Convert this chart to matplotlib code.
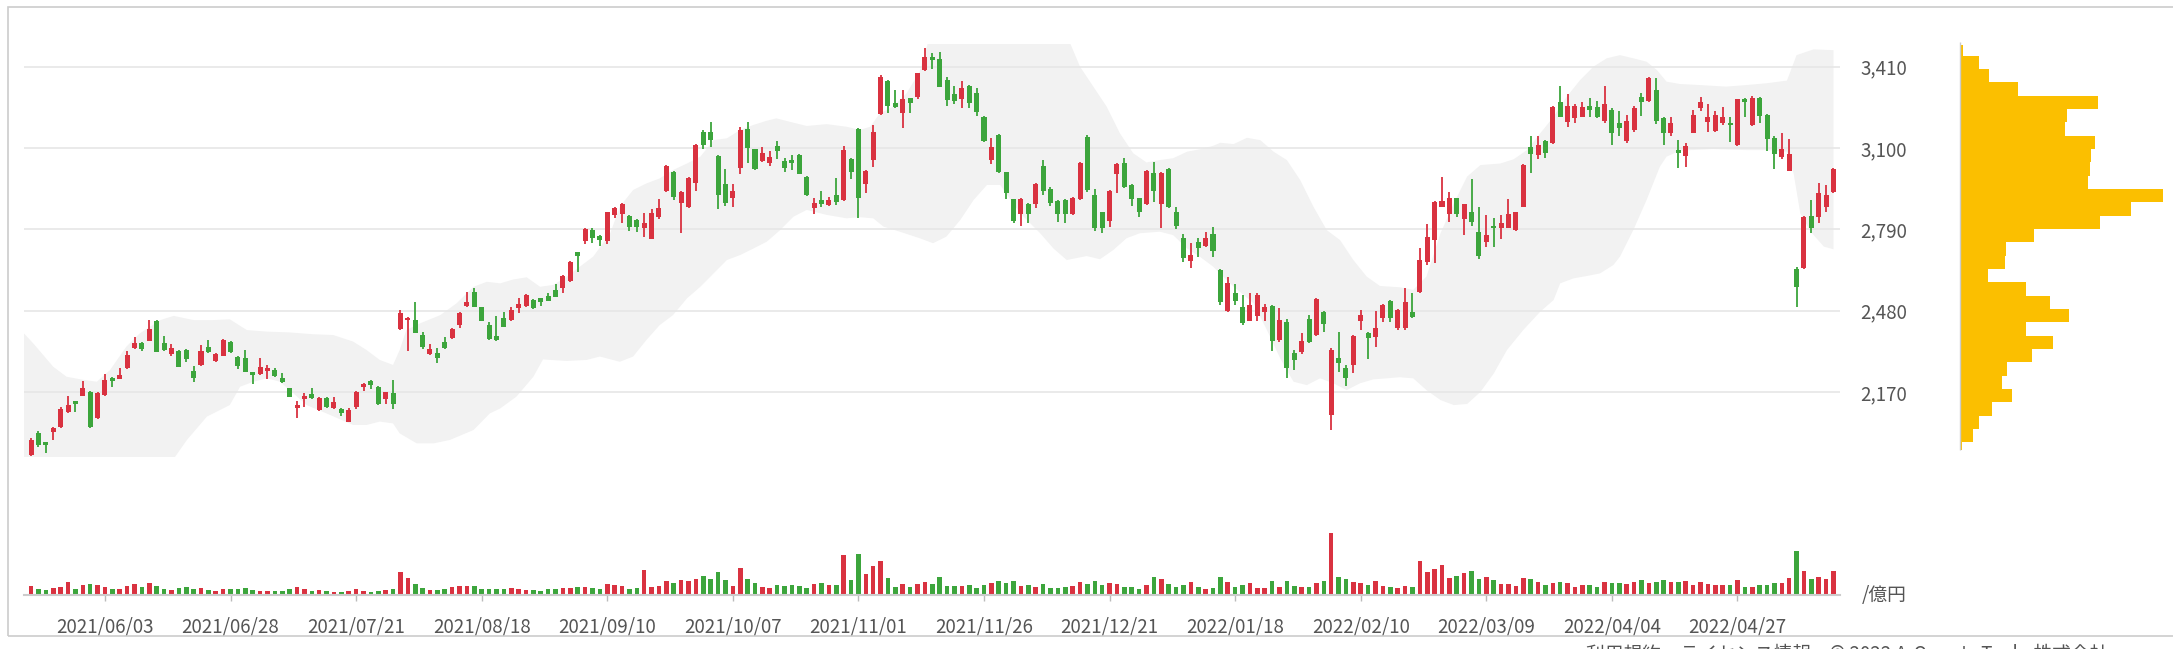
import numpy as np
import pandas as pd
import matplotlib
matplotlib.use("Agg")
import matplotlib.pyplot as plt
from matplotlib.patches import Rectangle

plt.rcParams['font.family'] = ['Noto Sans CJK JP', 'DejaVu Sans']

# ---- data ----------------------------------------------------------------
jp_holidays = ['2021-07-22', '2021-07-23', '2021-08-09', '2021-09-20', '2021-09-23',
               '2021-11-03', '2021-11-23', '2021-12-31', '2022-01-03', '2022-01-10',
               '2022-02-11', '2022-02-23', '2022-03-21', '2022-04-29', '2022-05-03',
               '2022-05-04', '2022-05-05']

# open, high, low, close (yen)
ohlc = [
    (1930, 1993, 1926, 1987), (2012, 2022, 1959, 1968), (1978, 1980, 1939, 1968), (2016, 2035, 1987, 2031),
    (2035, 2114, 2034, 2104), (2094, 2156, 2091, 2120), (2136, 2136, 2092, 2124), (2156, 2212, 2155, 2184),
    (2171, 2174, 2034, 2035), (2069, 2169, 2067, 2165), (2158, 2238, 2156, 2216), (2224, 2226, 2188, 2213),
    (2219, 2260, 2218, 2235), (2260, 2326, 2258, 2311), (2336, 2378, 2334, 2358), (2355, 2362, 2327, 2333),
    (2365, 2444, 2364, 2409), (2442, 2444, 2322, 2324), (2355, 2385, 2327, 2330), (2315, 2351, 2308, 2336),
    (2327, 2330, 2264, 2266), (2330, 2334, 2283, 2294), (2250, 2270, 2207, 2222), (2273, 2349, 2270, 2327),
    (2343, 2368, 2317, 2321), (2288, 2317, 2285, 2313), (2308, 2372, 2306, 2368), (2362, 2364, 2320, 2321),
    (2305, 2308, 2259, 2270), (2298, 2330, 2245, 2247), (2245, 2247, 2200, 2235), (2237, 2298, 2236, 2266),
    (2251, 2273, 2219, 2260), (2254, 2260, 2228, 2232), (2222, 2244, 2203, 2207), (2184, 2186, 2150, 2152),
    (2108, 2136, 2069, 2120), (2143, 2165, 2114, 2155), (2162, 2186, 2142, 2146), (2101, 2152, 2099, 2146),
    (2146, 2150, 2108, 2111), (2108, 2150, 2105, 2133), (2105, 2108, 2080, 2088), (2057, 2108, 2054, 2101),
    (2111, 2175, 2104, 2171), (2188, 2203, 2175, 2200), (2213, 2216, 2180, 2196), (2190, 2194, 2120, 2124),
    (2143, 2171, 2124, 2169), (2165, 2216, 2104, 2124), (2409, 2482, 2406, 2470), (2444, 2457, 2326, 2453),
    (2444, 2514, 2393, 2396), (2387, 2397, 2334, 2340), (2313, 2353, 2311, 2332), (2317, 2339, 2282, 2298),
    (2359, 2378, 2334, 2336), (2374, 2413, 2372, 2410), (2425, 2474, 2413, 2470), (2498, 2550, 2495, 2514),
    (2550, 2565, 2493, 2495), (2493, 2495, 2439, 2442), (2425, 2435, 2368, 2371), (2383, 2460, 2365, 2368),
    (2451, 2474, 2416, 2419), (2444, 2495, 2440, 2482), (2489, 2529, 2470, 2505), (2498, 2542, 2495, 2540),
    (2520, 2524, 2485, 2489), (2527, 2529, 2499, 2514), (2537, 2548, 2515, 2518), (2559, 2580, 2531, 2533),
    (2565, 2616, 2546, 2612), (2593, 2670, 2590, 2664), (2702, 2705, 2626, 2688), (2747, 2795, 2733, 2790),
    (2787, 2795, 2737, 2756), (2764, 2767, 2726, 2749), (2747, 2857, 2733, 2855), (2845, 2876, 2832, 2870),
    (2848, 2892, 2813, 2887), (2841, 2845, 2785, 2800), (2826, 2829, 2781, 2800), (2794, 2851, 2762, 2815),
    (2753, 2866, 2752, 2853), (2838, 2904, 2831, 2870), (2936, 3036, 2934, 3033), (3007, 3012, 2902, 2914),
    (2891, 2937, 2777, 2934), (2874, 2991, 2870, 2987), (2965, 3115, 2936, 3111), (3160, 3169, 3096, 3111),
    (3162, 3200, 3105, 3130), (3069, 3073, 2866, 2921), (2961, 3019, 2880, 2891), (2908, 2961, 2876, 2936),
    (3025, 3181, 3001, 3169), (3171, 3200, 3041, 3101), (3095, 3097, 3016, 3019), (3052, 3105, 3048, 3080),
    (3041, 3090, 3031, 3067), (3108, 3127, 3057, 3090), (3050, 3061, 3010, 3025), (3054, 3073, 3016, 3041),
    (3073, 3076, 2999, 3001), (2991, 2993, 2918, 2921), (2870, 2911, 2847, 2889), (2902, 2936, 2876, 2886),
    (2883, 2914, 2880, 2902), (2921, 2987, 2883, 2895), (2902, 3109, 2899, 3092), (3059, 3063, 2980, 3010),
    (3171, 3175, 2834, 2911), (2961, 3016, 2930, 3012), (3054, 3188, 3029, 3160), (3230, 3377, 3226, 3372),
    (3355, 3359, 3235, 3260), (3270, 3321, 3251, 3255), (3232, 3321, 3175, 3285), (3289, 3292, 3232, 3270),
    (3296, 3387, 3287, 3385), (3397, 3480, 3395, 3446), (3446, 3461, 3401, 3435), (3439, 3467, 3331, 3334),
    (3359, 3369, 3261, 3283), (3306, 3336, 3268, 3280), (3287, 3355, 3251, 3330), (3336, 3341, 3251, 3273),
    (3311, 3330, 3222, 3236), (3219, 3222, 3124, 3128), (3054, 3139, 3039, 3105), (3149, 3152, 3005, 3007),
    (3007, 3010, 2906, 2927), (2904, 2907, 2815, 2823), (2847, 2909, 2804, 2906), (2887, 2889, 2815, 2847),
    (2885, 2968, 2870, 2963), (3033, 3054, 2921, 2936), (2944, 2950, 2880, 2889), (2899, 2902, 2819, 2847),
    (2902, 2906, 2815, 2847), (2847, 2912, 2845, 2911), (2906, 3048, 2902, 3044), (3143, 3149, 2934, 2940),
    (2921, 2944, 2785, 2794), (2855, 2857, 2775, 2794), (2822, 2940, 2800, 2936), (3001, 3041, 2927, 3039),
    (3041, 3061, 2946, 2950), (2959, 2963, 2879, 2904), (2908, 2911, 2838, 2855), (2886, 3016, 2883, 3014),
    (3006, 3045, 2895, 2936), (2886, 3010, 2796, 3006), (3019, 3022, 2870, 2874), (2857, 2876, 2791, 2803),
    (2756, 2772, 2664, 2679), (2669, 2737, 2641, 2692), (2743, 2756, 2686, 2717), (2728, 2778, 2724, 2756),
    (2772, 2800, 2686, 2709), (2635, 2637, 2501, 2512), (2480, 2607, 2476, 2584), (2546, 2581, 2501, 2517),
    (2493, 2540, 2425, 2432), (2442, 2546, 2440, 2501), (2460, 2546, 2442, 2540), (2476, 2505, 2442, 2493),
    (2498, 2501, 2326, 2365), (2368, 2489, 2359, 2444), (2438, 2448, 2224, 2260), (2320, 2330, 2254, 2292),
    (2324, 2393, 2313, 2364), (2447, 2463, 2358, 2362), (2387, 2529, 2385, 2523), (2476, 2480, 2400, 2429),
    (2082, 2339, 2025, 2330), (2298, 2400, 2247, 2279), (2263, 2273, 2194, 2222), (2273, 2387, 2241, 2383),
    (2442, 2482, 2406, 2463), (2393, 2397, 2294, 2374), (2381, 2479, 2343, 2413), (2451, 2505, 2438, 2501),
    (2518, 2520, 2435, 2451), (2413, 2486, 2406, 2482), (2413, 2565, 2406, 2514), (2474, 2546, 2451, 2457),
    (2552, 2717, 2546, 2673), (2667, 2809, 2654, 2759), (2749, 2898, 2660, 2893), (2876, 2991, 2874, 2899),
    (2847, 2934, 2819, 2908), (2908, 2911, 2838, 2847), (2828, 2888, 2768, 2885), (2855, 2980, 2804, 2819),
    (2781, 2874, 2676, 2688), (2740, 2845, 2724, 2768), (2804, 2832, 2724, 2796), (2794, 2845, 2753, 2815),
    (2796, 2904, 2794, 2847), (2787, 2857, 2785, 2855), (2876, 3039, 2874, 3035), (3105, 3146, 3006, 3077),
    (3073, 3146, 3057, 3111), (3128, 3130, 3061, 3082), (3120, 3260, 3115, 3255), (3274, 3336, 3217, 3219),
    (3200, 3306, 3181, 3260), (3213, 3267, 3196, 3261), (3219, 3274, 3217, 3258), (3260, 3289, 3217, 3245),
    (3258, 3280, 3216, 3217), (3204, 3336, 3196, 3267), (3245, 3251, 3110, 3156), (3196, 3241, 3146, 3177),
    (3128, 3226, 3120, 3204), (3169, 3260, 3160, 3251), (3296, 3308, 3222, 3277), (3280, 3372, 3277, 3368),
    (3321, 3365, 3191, 3204), (3213, 3217, 3110, 3158), (3158, 3219, 3147, 3194), (3092, 3130, 3022, 3080),
    (3069, 3120, 3026, 3109), (3158, 3245, 3156, 3226), (3251, 3296, 3242, 3277), (3200, 3267, 3160, 3219),
    (3165, 3241, 3160, 3226), (3194, 3255, 3188, 3219), (3196, 3217, 3121, 3188), (3111, 3288, 3109, 3285),
    (3287, 3290, 3219, 3277), (3188, 3299, 3184, 3292), (3292, 3296, 3196, 3222), (3226, 3228, 3090, 3133),
    (3137, 3146, 3021, 3077), (3064, 3156, 3057, 3095), (3014, 3134, 3012, 3076), (2637, 2648, 2495, 2569),
    (2641, 2842, 2639, 2838), (2841, 2902, 2775, 2796), (2836, 2965, 2813, 2927), (2876, 2958, 2855, 2921),
    (2934, 3025, 2930, 3020),
]

# turnover, 億円
volume = [
    25, 16, 14, 19, 23, 37, 16, 28, 32, 28, 22, 17, 17, 26, 32, 22, 34, 26, 18, 14,
    19, 22, 18, 19, 13, 10, 16, 16, 16, 20, 14, 11, 10, 10, 11, 16, 24, 16, 12, 14,
    12, 8, 9, 11, 17, 11, 9, 11, 13, 18, 68, 49, 33, 20, 13, 14, 17, 22, 27, 25,
    25, 17, 17, 17, 18, 19, 17, 13, 13, 12, 18, 16, 19, 21, 23, 23, 19, 16, 31, 28,
    26, 18, 21, 74, 24, 25, 42, 34, 44, 41, 46, 55, 46, 67, 44, 25, 80, 48, 35, 23,
    20, 28, 27, 29, 25, 19, 31, 35, 28, 29, 118, 44, 121, 61, 86, 101, 49, 23, 32, 23,
    32, 37, 32, 53, 27, 25, 25, 28, 20, 29, 35, 41, 35, 41, 26, 28, 24, 31, 19, 19,
    24, 26, 38, 32, 41, 28, 35, 32, 22, 22, 16, 29, 53, 46, 32, 24, 28, 38, 22, 18,
    20, 53, 38, 22, 28, 35, 20, 21, 41, 24, 41, 27, 23, 23, 35, 41, 184, 53, 46, 37,
    35, 30, 40, 26, 24, 20, 26, 24, 100, 69, 77, 89, 51, 55, 64, 71, 46, 53, 44, 33,
    32, 27, 49, 46, 38, 28, 34, 37, 34, 22, 29, 28, 23, 37, 34, 35, 32, 38, 44, 36,
    38, 44, 38, 38, 40, 28, 39, 32, 30, 28, 29, 43, 23, 22, 28, 30, 34, 34, 49, 130,
    70, 48, 52, 47, 70,
]

# shaded band: (bar index, price)
band_upper = [
    (-0.96, 2393), (0.3, 2355), (3, 2266), (4.8, 2228), (7.1, 2216), (8.9, 2209), (10.7, 2254),
    (12.9, 2343), (14.7, 2393), (17.5, 2444), (19.3, 2460), (22, 2444), (24.7, 2444), (26.9, 2447),
    (29.2, 2406), (31.9, 2400), (35, 2397), (38.2, 2390), (40.9, 2387), (43.6, 2362), (45.4, 2330),
    (47.2, 2292), (49, 2273), (49.9, 2330), (50.8, 2406), (52.7, 2432), (55.4, 2463), (57.6, 2508),
    (59.9, 2571), (61.7, 2590), (63.5, 2584), (65.3, 2599), (67.1, 2607), (68.9, 2571), (70.7, 2578),
    (72.5, 2609), (74.3, 2648), (76.1, 2686), (78.4, 2775), (79.7, 2876), (81.5, 2940), (83.3, 2965),
    (85.1, 2984), (86.9, 3016), (88.8, 3041), (90.6, 3067), (92.4, 3130), (94.2, 3137), (96, 3169),
    (97.8, 3188), (99.6, 3204), (100.9, 3213), (102.7, 3200), (105, 3184), (107.7, 3191), (110.4, 3181),
    (112.2, 3169), (113.6, 3181), (114.9, 3232), (116.7, 3258), (118.5, 3308), (120.3, 3391),
    (121.7, 3530), (140.2, 3530), (142, 3410), (143.8, 3334), (145.6, 3258), (147.4, 3156),
    (149.2, 3080), (151, 3045), (152.8, 3054), (154.6, 3061), (156.5, 3086), (158.2, 3095), (160, 3108),
    (161, 3120), (162.8, 3115), (164.6, 3139), (166.4, 3130), (168.2, 3086), (170, 3054), (171.8, 2978),
    (173.6, 2876), (175.4, 2787), (177.2, 2749), (179, 2673), (180.8, 2610), (182.6, 2574), (185.3, 2569),
    (187.1, 2559), (188.9, 2610), (190.8, 2775), (192.6, 2889), (194.4, 2991), (196.2, 3035),
    (198.9, 3041), (200.7, 3057), (202.5, 3092), (204.3, 3156), (206.1, 3219), (207.9, 3296),
    (209.7, 3359), (211.5, 3410), (213.3, 3442), (215.1, 3454), (216.9, 3442), (218.7, 3429),
    (220.1, 3397), (221.4, 3353), (223.2, 3344), (225.9, 3340), (229.5, 3334), (232.2, 3340),
    (235, 3347), (237.7, 3357), (239, 3454), (241.3, 3476), (244, 3473),
]
band_lower = [
    (-0.96, 1915), (19.3, 1915), (21.1, 1987), (23.8, 2076), (26.9, 2120), (28.3, 2190), (30.1, 2209),
    (31.9, 2222), (33.7, 2209), (35.5, 2165), (37.3, 2120), (40.5, 2082), (43.6, 2044), (45.4, 2044),
    (47.2, 2057), (49, 2050), (49.9, 2012), (52.2, 1974), (54.5, 1974), (56.7, 1987), (59.9, 2025),
    (62.1, 2088), (63.5, 2107), (65.7, 2152), (68, 2228), (69.3, 2294), (72.5, 2288), (75.2, 2292),
    (77, 2305), (79.7, 2285), (81.5, 2305), (83.3, 2368), (85.1, 2425), (86.9, 2463), (88.8, 2527),
    (90.6, 2571), (92.4, 2622), (94.2, 2673), (96, 2692), (97.8, 2717), (99.6, 2743), (101.4, 2787),
    (103.2, 2838), (105, 2864), (107.7, 2845), (110.4, 2832), (112.2, 2836), (114, 2832), (115.4, 2800),
    (117.6, 2781), (120.3, 2756), (122.1, 2737), (123.9, 2762), (125.8, 2826), (127.6, 2902),
    (129.4, 2959), (131.2, 2959), (133.9, 2851), (136.6, 2775), (138.4, 2717), (140.2, 2673),
    (142.9, 2688), (144.7, 2676), (146.5, 2711), (148.3, 2756), (150.1, 2775), (152.8, 2781),
    (154.6, 2768), (156.5, 2717), (158.2, 2686), (160, 2648), (162.8, 2571), (165.5, 2508),
    (167.3, 2406), (169.1, 2298), (170.9, 2209), (172.7, 2196), (174.5, 2222), (176.3, 2203),
    (178.1, 2177), (179.9, 2203), (181.7, 2218), (185.3, 2226), (187.1, 2222), (188.9, 2177),
    (190.8, 2139), (192.6, 2120), (194.4, 2124), (196.2, 2170), (198, 2240), (199.8, 2330),
    (202, 2406), (204.3, 2476), (206.1, 2520), (207, 2584), (208.8, 2603), (210.6, 2612), (212.4, 2622),
    (214.2, 2654), (215.1, 2686), (216.9, 2787), (218.7, 2902), (220.5, 3029), (221.4, 3067),
    (223.2, 3090), (227.7, 3096), (232.2, 3092), (235, 3092), (237.7, 3086), (238.6, 3003),
    (239.5, 2851), (240.9, 2781), (242.7, 2724), (244, 2714),
]

# price-by-volume histogram (bin edges top->bottom, relative size)
hist_edges = [3493, 3452, 3401, 3350, 3300, 3249, 3198, 3147, 3096, 3045, 2995, 2944, 2893, 2842,
              2791, 2741, 2690, 2639, 2588, 2537, 2486, 2436, 2385, 2334, 2283, 2232, 2182, 2131,
              2080, 2029, 1978, 1949]
hist_vol = [8, 44, 68, 135, 321, 248, 245, 314, 304, 302, 298, 472, 398, 326, 172, 108, 104, 64,
            154, 210, 253, 154, 216, 168, 110, 98, 120, 75, 45, 30, 5]

grid_prices = [2170, 2480, 2790, 3100, 3410]

# ---- layout helpers (pixels) ---------------------------------------------
W, H = 2173, 649
fig = plt.figure(figsize=(W / 100, H / 100), dpi=100)


def px_axes(x0, y0, x1, y1):
    return fig.add_axes([x0 / W, 1 - y1 / H, (x1 - x0) / W, (y1 - y0) / H])


RED = '#d93240'
GREEN = '#3ca53c'
TXT = '#555555'

n = len(ohlc)
dates = pd.bdate_range('2021-05-20', '2022-06-30', freq='C', holidays=jp_holidays)[:n]
xs = np.arange(n)
o = np.array([r[0] for r in ohlc], dtype=float)
hi = np.array([r[1] for r in ohlc], dtype=float)
lo = np.array([r[2] for r in ohlc], dtype=float)
c = np.array([r[3] for r in ohlc], dtype=float)
colors = [RED if cc >= oo else GREEN for oo, cc in zip(o, c)]

xlim = (-0.96, 244.88)
ylim = (1922, 3496.5)

# ---- price panel ---------------------------------------------------------
ax = px_axes(24, 44, 1840, 457)
ax.set_xlim(*xlim)
ax.set_ylim(*ylim)
for s in ax.spines.values():
    s.set_visible(False)

poly_x = [p[0] for p in band_upper] + [p[0] for p in band_lower[::-1]]
poly_y = [p[1] for p in band_upper] + [p[1] for p in band_lower[::-1]]
ax.fill(poly_x, poly_y, color='#f2f2f2', lw=0, zorder=0)

for g in grid_prices:
    ax.axhline(g, color='#e6e6e6', lw=1.2, zorder=1)

ax.vlines(xs, lo, hi, colors=colors, lw=1.3, zorder=2)
body = np.maximum(np.abs(c - o), 4)
ax.bar(xs, body, bottom=np.minimum(o, c), width=0.68, color=colors, lw=0, zorder=3)

ax.set_xticks([])
ax.yaxis.tick_right()
ax.set_yticks(grid_prices)
ax.set_yticklabels([f'{g:,}' for g in grid_prices])
ax.tick_params(axis='y', length=0, pad=14.5, labelsize=13.5, labelcolor=TXT)

# ---- volume panel --------------------------------------------------------
axv = px_axes(24, 469.7, 1840, 594.7)
axv.set_xlim(*xlim)
axv.set_ylim(0, 375)
axv.bar(xs, volume, width=0.62, color=colors, lw=0)
for k in ['top', 'left', 'right']:
    axv.spines[k].set_visible(False)
axv.spines['bottom'].set_color('#cccccc')
axv.spines['bottom'].set_linewidth(1.5)
axv.set_yticks([])
tick_idx = list(range(10, n, 17))
axv.set_xticks(tick_idx)
axv.set_xticklabels([dates[i].strftime('%Y/%m/%d') for i in tick_idx])
axv.tick_params(axis='x', length=4, width=1, color='#bbbbbb', pad=12,
                labelsize=13.5, labelcolor=TXT)

fig.text(1862 / W, 1 - 596 / H, '/億円', ha='left', va='center', fontsize=13.5, color=TXT)

# ---- price-by-volume histogram -------------------------------------------
axh = px_axes(1960, 44, 2163, 457)
axh.set_ylim(*ylim)
axh.set_xlim(0, max(hist_vol))
edges = np.array(hist_edges, dtype=float)
axh.barh(edges[1:], hist_vol, height=edges[:-1] - edges[1:], align='edge',
         color='#fbbf00', lw=0)
axh.vlines(0, edges[-1], 3505, colors='#cccccc', lw=1, clip_on=False)
axh.axis('off')

# ---- frame and footer ----------------------------------------------------
fig.add_artist(Rectangle((8 / W, 1 - 636 / H), 2.0, (636 - 7) / H, transform=fig.transFigure,
                         fill=False, edgecolor='#cccccc', lw=1.2))
fig.text(1586 / W, 1 - 643 / H, '利用規約　ライセンス情報　© 2022 A-Quants Tech. 株式会社',
         ha='left', va='top', fontsize=13.5, color=TXT)

fig.savefig('out.png', dpi=100)
